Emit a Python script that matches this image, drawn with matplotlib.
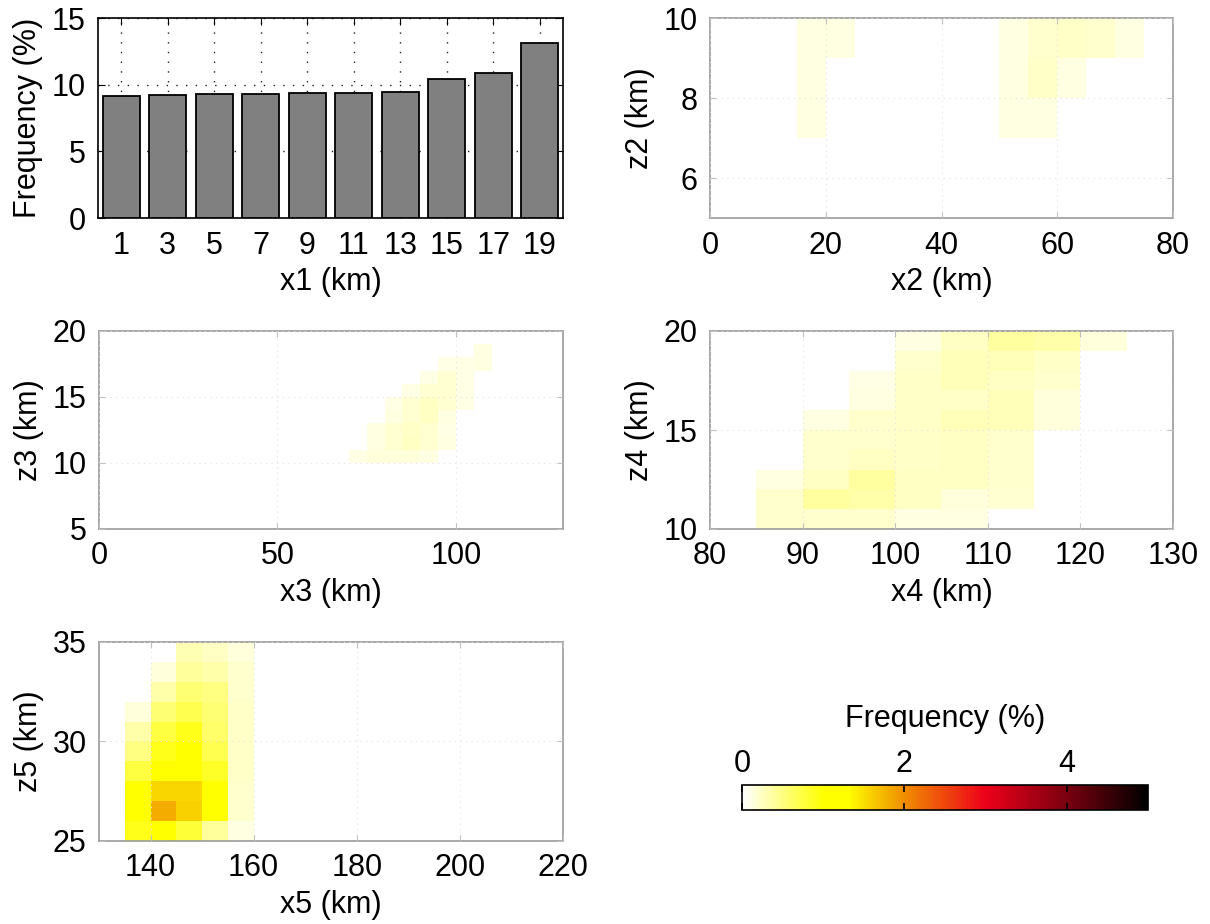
import numpy as np
import matplotlib
matplotlib.use('Agg')
import matplotlib.pyplot as plt
from matplotlib.colors import LinearSegmentedColormap

plt.rcParams['font.family'] = ['Liberation Sans', 'DejaVu Sans']
plt.rcParams['font.size'] = 22

# ---- data ----
# panel 1: histogram of x1
x1_centers = [1, 3, 5, 7, 9, 11, 13, 15, 17, 19]
x1_freq = [9.13, 9.23, 9.28, 9.28, 9.35, 9.35, 9.45, 10.46, 10.84, 13.13]

# panel 2: x2 / z2 (rows bottom -> top)
x2_edges = [15, 20, 25, 30, 35, 40, 45, 50, 55, 60, 65, 70, 75]
z2_edges = [7, 8, 9, 10]
f2 = [
    [0.12, 0, 0, 0, 0, 0, 0, 0.12, 0.12, 0, 0, 0],
    [0.12, 0, 0, 0, 0, 0, 0, 0.12, 0.22, 0.12, 0, 0],
    [0.12, 0.12, 0, 0, 0, 0, 0, 0.12, 0.2, 0.22, 0.2, 0.12],
]

# panel 3: x3 / z3
x3_edges = [70, 75, 80, 85, 90, 95, 100, 105, 110]
z3_edges = [10, 11, 12, 13, 14, 15, 16, 17, 18, 19]
f3 = [
    [0.1, 0.15, 0.15, 0.15, 0.12, 0, 0, 0],
    [0, 0.12, 0.18, 0.25, 0.18, 0.12, 0, 0],
    [0, 0.12, 0.18, 0.22, 0.18, 0.1, 0, 0],
    [0, 0, 0.12, 0.18, 0.25, 0.12, 0, 0],
    [0, 0, 0.1, 0.18, 0.25, 0.18, 0.1, 0],
    [0, 0, 0, 0.1, 0.18, 0.18, 0.1, 0],
    [0, 0, 0, 0, 0.1, 0.18, 0.1, 0],
    [0, 0, 0, 0, 0, 0.1, 0.1, 0.12],
    [0, 0, 0, 0, 0, 0, 0, 0.12],
]

# panel 4: x4 / z4
x4_edges = [85, 90, 95, 100, 105, 110, 115, 120, 125]
z4_edges = [10, 11, 12, 13, 14, 15, 16, 17, 18, 19, 20]
f4 = [
    [0.2, 0.2, 0.2, 0.12, 0.12, 0, 0, 0],
    [0.2, 0.38, 0.35, 0.25, 0.15, 0.18, 0, 0],
    [0.12, 0.25, 0.38, 0.25, 0.25, 0.2, 0, 0],
    [0, 0.2, 0.25, 0.22, 0.25, 0.2, 0, 0],
    [0, 0.2, 0.2, 0.22, 0.25, 0.2, 0, 0],
    [0, 0.12, 0.2, 0.22, 0.28, 0.28, 0.15, 0],
    [0, 0, 0.12, 0.22, 0.22, 0.28, 0.15, 0],
    [0, 0, 0.1, 0.22, 0.28, 0.25, 0.2, 0],
    [0, 0, 0, 0.2, 0.28, 0.28, 0.22, 0],
    [0, 0, 0, 0.12, 0.25, 0.38, 0.35, 0.15],
]

# panel 5: x5 / z5
x5_edges = [135, 140, 145, 150, 155, 160]
z5_edges = [25, 26, 27, 28, 29, 30, 31, 32, 33, 34, 35]
f5 = [
    [0.9, 1.05, 0.8, 0.4, 0.12],
    [1.05, 1.8, 1.6, 1.05, 0.2],
    [1.05, 1.55, 1.55, 1.05, 0.2],
    [0.75, 1.0, 1.05, 0.85, 0.22],
    [0.5, 0.9, 1.0, 0.7, 0.22],
    [0.35, 0.75, 0.9, 0.6, 0.22],
    [0.15, 0.55, 0.7, 0.55, 0.22],
    [0, 0.35, 0.55, 0.5, 0.2],
    [0, 0.15, 0.4, 0.35, 0.2],
    [0, 0, 0.3, 0.25, 0.15],
]

cmap = LinearSegmentedColormap.from_list('whot', [
    (0.0, (1, 1, 1)),
    (0.2, (1, 1, 0)),
    (0.26, (1, 1, 0)),
    (0.4, (0.94, 0.55, 0.0)),
    (0.6, (0.93, 0.0, 0.1)),
    (0.8, (0.48, 0.0, 0.06)),
    (1.0, (0, 0, 0)),
])
vmin, vmax = 0, 5

fig = plt.figure(figsize=(12.1, 9.24), dpi=100)

W, H = 1210, 924
def box(l, t, r, b):
    return [l / W, 1 - b / H, (r - l) / W, (b - t) / H]

# ---- panel 1 ----
ax1 = fig.add_axes(box(98, 18, 563, 218))
ax1.bar(x1_centers, x1_freq, width=1.6, color='#808080', edgecolor='black',
        linewidth=1.3, zorder=3)
ax1.set_xlim(0, 20)
ax1.set_ylim(0, 15)
ax1.set_xticks(x1_centers)
ax1.set_yticks([0, 5, 10, 15])
ax1.grid(True, color='#202020', linestyle=(0, (1, 6)), linewidth=1.0, zorder=0)
ax1.set_axisbelow(True)
ax1.tick_params(direction='in', top=True, right=True, length=5, pad=9)
for s in ax1.spines.values():
    s.set_linewidth(1.2)
ax1.set_xlabel('x1 (km)', labelpad=5)
ax1.set_ylabel('Frequency (%)', labelpad=6)


def heat(rect, xe, ze, f, xlim, ylim, xt, yt, xl, yl):
    ax = fig.add_axes(rect)
    data = np.ma.masked_equal(np.array(f, dtype=float), 0)
    ax.pcolormesh(xe, ze, data, cmap=cmap, vmin=vmin, vmax=vmax,
                  shading='flat', zorder=1)
    ax.set_xlim(*xlim)
    ax.set_ylim(*ylim)
    ax.set_xticks(xt)
    ax.set_yticks(yt)
    ax.grid(True, color='#e2e2e2', linestyle=(0, (1, 4)), linewidth=0.8)
    ax.set_axisbelow(False)
    ax.tick_params(direction='in', top=True, right=True, length=4,
                   color='#c0c0c0', pad=9)
    for s in ax.spines.values():
        s.set_color('#9a9a9a')
        s.set_linewidth(1.2)
    ax.set_xlabel(xl, labelpad=5)
    ax.set_ylabel(yl, labelpad=6)
    return ax


heat(box(710, 18, 1173, 218), x2_edges, z2_edges, f2, (0, 80), (5, 10),
     [0, 20, 40, 60, 80], [6, 8, 10], 'x2 (km)', 'z2 (km)')
heat(box(99, 331, 563, 529), x3_edges, z3_edges, f3, (0, 130), (5, 20),
     [0, 50, 100], [5, 10, 15, 20], 'x3 (km)', 'z3 (km)')
heat(box(710, 331, 1173, 529), x4_edges, z4_edges, f4, (80, 130), (10, 20),
     [80, 90, 100, 110, 120, 130], [10, 15, 20], 'x4 (km)', 'z4 (km)')
heat(box(99, 642, 563, 841), x5_edges, z5_edges, f5, (130, 220), (25, 35),
     [140, 160, 180, 200, 220], [25, 30, 35], 'x5 (km)', 'z5 (km)')

# ---- colorbar ----
cax = fig.add_axes(box(742, 785, 1148, 810))
sm = plt.cm.ScalarMappable(cmap=cmap, norm=plt.Normalize(vmin, vmax))
cb = fig.colorbar(sm, cax=cax, orientation='horizontal', ticks=[0, 2, 4])
cb.outline.set_linewidth(1.2)
cax.xaxis.set_ticks_position('both')
cax.xaxis.set_label_position('top')
cax.tick_params(direction='in', length=5, width=1.2, labeltop=True,
                labelbottom=False, pad=4)
cb.set_label('Frequency (%)', labelpad=16)

fig.savefig('out.png', dpi=100)
